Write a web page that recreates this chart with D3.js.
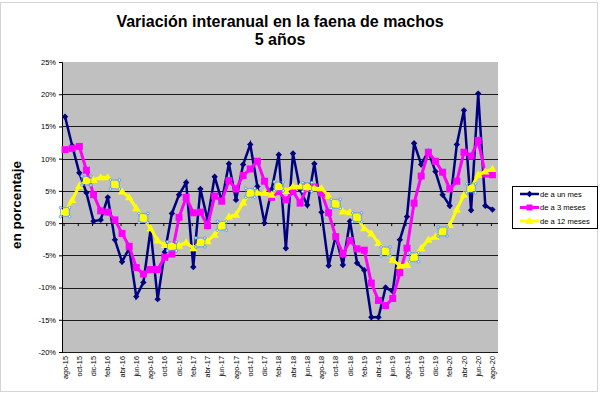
<!DOCTYPE html>
<html>
<head>
<meta charset="utf-8">
<script src="https://cdn.jsdelivr.net/npm/d3@7"></script>
<style>
body { margin: 0; background: #fff; }
svg { display: block; font-family: Arial, "Liberation Sans", sans-serif; }
</style>
</head>
<body>
<div id="chart"></div>
<script>
// meses (categorías)
var months = ["ago-15","sep-15","oct-15","nov-15","dic-15","ene-16","feb-16","mar-16","abr-16","may-16","jun-16","jul-16",
	"ago-16","sep-16","oct-16","nov-16","dic-16","ene-17","feb-17","mar-17","abr-17","may-17","jun-17","jul-17",
	"ago-17","sep-17","oct-17","nov-17","dic-17","ene-18","feb-18","mar-18","abr-18","may-18","jun-18","jul-18",
	"ago-18","sep-18","oct-18","nov-18","dic-18","ene-19","feb-19","mar-19","abr-19","may-19","jun-19","jul-19",
	"ago-19","sep-19","oct-19","nov-19","dic-19","ene-20","feb-20","mar-20","abr-20","may-20","jun-20","jul-20","ago-20"];

var tickLabels = ["ago-15","oct-15","dic-15","feb-16","abr-16","jun-16","ago-16","oct-16","dic-16","feb-17","abr-17",
	"jun-17","ago-17","oct-17","dic-17","feb-18","abr-18","jun-18","ago-18","oct-18","dic-18","feb-19","abr-19",
	"jun-19","ago-19","oct-19","dic-19","feb-20","abr-20","jun-20","ago-20"];

var yTicks = [-20, -15, -10, -5, 0, 5, 10, 15, 20, 25];

// variación en %
var unMes = [16.5, 12.0, 7.8, 4.7, 0.3, 0.5, 4.0, -2.6, -6.0, -3.9, -11.4, -9.2,
	-1.0, -11.8, -4.5, 1.5, 4.4, 6.3, -6.8, 5.3, 0.5, 7.2, 3.4, 9.2,
	3.6, 9.1, 12.2, 5.7, 0.0, 5.2, 10.6, -3.9, 10.8, 5.2, 2.8, 9.2,
	1.7, -6.6, -2.0, -6.5, 0.3, -6.2, -7.3, -14.6, -14.6, -10.0, -10.6, -2.6,
	1.0, 12.4, 9.1, 11.1, 8.0, 4.4, 2.7, 12.2, 17.5, 2.0, 20.1, 2.7, 2.1];

var tresMeses = [11.4, 11.6, 11.9, 8.2, 4.4, 1.9, 1.7, 0.5, -1.6, -3.6, -6.9, -7.9,
	-7.2, -7.2, -5.3, -4.8, 0.9, 4.0, 1.6, 1.7, -0.4, 4.2, 3.4, 6.6,
	5.3, 7.4, 8.4, 9.6, 6.5, 4.0, 4.9, 3.6, 4.9, 3.1, 5.6, 5.6,
	4.7, 1.6, -2.1, -4.8, -2.7, -4.0, -4.2, -9.3, -12.0, -12.8, -11.7, -7.7,
	-3.9, 3.1, 7.3, 11.0, 9.6, 7.9, 5.3, 6.5, 11.0, 10.4, 12.8, 7.6, 7.5];

var doceMeses = [1.7, 3.6, 5.8, 6.6, 6.7, 7.1, 7.1, 6.0, 4.9, 4.0, 2.3, 0.8,
	-0.8, -2.7, -3.4, -3.6, -3.5, -3.0, -3.9, -3.0, -2.8, -1.8, -0.4, 1.0,
	1.3, 3.2, 4.7, 4.7, 4.7, 4.4, 5.7, 5.0, 5.7, 5.7, 5.6, 5.4,
	5.4, 4.2, 3.0, 1.8, 1.7, 0.9, -0.8, -1.6, -3.1, -4.4, -5.7, -6.6,
	-6.5, -5.3, -3.9, -2.6, -2.1, -1.3, -0.3, 2.1, 4.4, 5.4, 7.5, 8.0, 8.4];

// puntos de la serie anual que aparecen marcados
var marcados = [0, 3, 7, 11, 15, 19, 22, 26, 30, 34, 38, 41, 45, 49, 53, 57];

var seriesNames = ["de a un mes", "de a 3 meses", "de a 12 meses"];

var W = 600, H = 395;
var plot = { left: 62, right: 498, top: 62, bottom: 352 };

var svg = d3.select("#chart").append("svg")
	.attr("width", W)
	.attr("height", H);

// borde del área del gráfico
svg.append("rect")
	.attr("x", 0.5).attr("y", 2.5)
	.attr("width", 597).attr("height", 389)
	.attr("fill", "#fff")
	.attr("stroke", "#d4d4d4");

var x = d3.scaleBand().domain(months).range([61.5, 496]);
var y = d3.scaleLinear().domain([-20, 25]).range([plot.bottom, plot.top]);
var cx = function(i) { return x(months[i]) + x.bandwidth() / 2; };

// fondo gris
svg.append("rect")
	.attr("x", plot.left).attr("y", plot.top)
	.attr("width", plot.right - plot.left)
	.attr("height", plot.bottom - plot.top)
	.attr("fill", "#c0c0c0");

// líneas de división
svg.append("g").selectAll("line")
	.data(yTicks.filter(function(t) { return t < 25; }))
	.enter().append("line")
	.attr("x1", plot.left).attr("x2", plot.right)
	.attr("y1", function(d) { return Math.round(y(d)) + 0.5; })
	.attr("y2", function(d) { return Math.round(y(d)) + 0.5; })
	.attr("stroke", "#1a1a1a")
	.attr("stroke-width", 1);

// eje Y
var yAxis = svg.append("g")
	.attr("transform", "translate(" + plot.left + ",0)")
	.call(d3.axisLeft(y).tickValues(yTicks).tickSize(3).tickPadding(3)
		.tickFormat(function(d) { return d + "%"; }));
yAxis.select(".domain").attr("stroke", "#000");
yAxis.selectAll("text").style("font-size", "7.5px").attr("fill", "#000");

// marcas del eje X sobre el 0%
svg.append("g").selectAll("line")
	.data(tickLabels)
	.enter().append("line")
	.attr("x1", function(d) { return x(d) + x.bandwidth() / 2 - 1; })
	.attr("x2", function(d) { return x(d) + x.bandwidth() / 2 - 1; })
	.attr("y1", y(0)).attr("y2", y(0) + 3)
	.attr("stroke", "#000");

// etiquetas del eje X, abajo y verticales
svg.append("g").selectAll("text")
	.data(tickLabels)
	.enter().append("text")
	.attr("transform", function(d) {
		return "translate(" + (x(d) + x.bandwidth() / 2 + 2.6) + "," + (plot.bottom + 4) + ") rotate(-90)";
	})
	.attr("text-anchor", "end")
	.style("font-size", "7.4px")
	.text(function(d) { return d; });

var line = d3.line()
	.x(function(d, i) { return cx(i); })
	.y(function(d) { return y(d); });

var diamond = "M0,-3.2L3.2,0L0,3.2L-3.2,0Z";
var triangle = "M0,-4.2L4.2,3L-4.2,3Z";

// serie mensual
svg.append("path").datum(unMes)
	.attr("d", line)
	.attr("fill", "none")
	.attr("stroke", "#000080")
	.attr("stroke-width", 2.5);
svg.append("g").selectAll("path")
	.data(unMes)
	.enter().append("path")
	.attr("d", diamond)
	.attr("transform", function(d, i) { return "translate(" + cx(i) + "," + y(d) + ")"; })
	.attr("fill", "#000080");

// serie trimestral
svg.append("path").datum(tresMeses)
	.attr("d", line)
	.attr("fill", "none")
	.attr("stroke", "#ff00ff")
	.attr("stroke-width", 3);
svg.append("g").selectAll("rect")
	.data(tresMeses)
	.enter().append("rect")
	.attr("x", function(d, i) { return cx(i) - 3.5; })
	.attr("y", function(d) { return y(d) - 3.5; })
	.attr("width", 7).attr("height", 7)
	.attr("fill", "#ff00ff");

// serie anual
svg.append("path").datum(doceMeses)
	.attr("d", line)
	.attr("fill", "none")
	.attr("stroke", "#ffff00")
	.attr("stroke-width", 3);
svg.append("g").selectAll("path")
	.data(doceMeses)
	.enter().append("path")
	.attr("d", triangle)
	.attr("transform", function(d, i) { return "translate(" + cx(i) + "," + y(d) + ")"; })
	.attr("fill", "#ffff00");

// marcas seleccionadas
var sel = svg.append("g").selectAll("g")
	.data(marcados)
	.enter().append("g")
	.attr("transform", function(i) { return "translate(" + cx(i) + "," + y(doceMeses[i]) + ")"; });
sel.append("circle").attr("r", 3.6).attr("fill", "#ffff00");
sel.append("rect")
	.attr("x", -4.5).attr("y", -4.5).attr("width", 9).attr("height", 9)
	.attr("fill", "none").attr("stroke", "#5aa0e0").attr("stroke-width", 0.7);
sel.selectAll("circle.h")
	.data([[-4.5, -4.5], [4.5, -4.5], [-4.5, 4.5], [4.5, 4.5]])
	.enter().append("circle")
	.attr("class", "h")
	.attr("cx", function(d) { return d[0]; })
	.attr("cy", function(d) { return d[1]; })
	.attr("r", 1.3)
	.attr("fill", "#e8f2fc").attr("stroke", "#3a88dd").attr("stroke-width", 0.7);

// títulos
svg.append("text")
	.attr("x", 280).attr("y", 27)
	.attr("text-anchor", "middle")
	.style("font-size", "16px").style("font-weight", "bold")
	.text("Variación interanual en la faena de machos");
svg.append("text")
	.attr("x", 280).attr("y", 45)
	.attr("text-anchor", "middle")
	.style("font-size", "16px").style("font-weight", "bold")
	.text("5 años");
svg.append("text")
	.attr("transform", "translate(21,205) rotate(-90)")
	.attr("text-anchor", "middle")
	.style("font-size", "13.5px").style("font-weight", "bold")
	.text("en porcentaje");

// leyenda
var legend = svg.append("g").attr("transform", "translate(512,186)");
legend.append("rect")
	.attr("x", 0.5).attr("y", 0.5).attr("width", 85).attr("height", 42)
	.attr("fill", "#fff").attr("stroke", "#000");
var colors = ["#000080", "#ff00ff", "#ffff00"];
var item = legend.selectAll("g.item")
	.data(seriesNames)
	.enter().append("g")
	.attr("class", "item")
	.attr("transform", function(d, i) { return "translate(0," + (8 + i * 13.5) + ")"; });
item.append("line")
	.attr("x1", 8).attr("x2", 27)
	.attr("stroke", function(d, i) { return colors[i]; })
	.attr("stroke-width", function(d, i) { return i == 0 ? 2.5 : 3; });
item.append("path")
	.attr("d", function(d, i) {
		if (i == 0) return diamond;
		if (i == 1) return "M-3,-3L3,-3L3,3L-3,3Z";
		return triangle;
	})
	.attr("transform", "translate(17.5,0)")
	.attr("fill", function(d, i) { return colors[i]; });
item.append("text")
	.attr("x", 28).attr("y", 2.7)
	.style("font-size", "7.6px")
	.text(function(d) { return d; });
</script>
</body>
</html>
